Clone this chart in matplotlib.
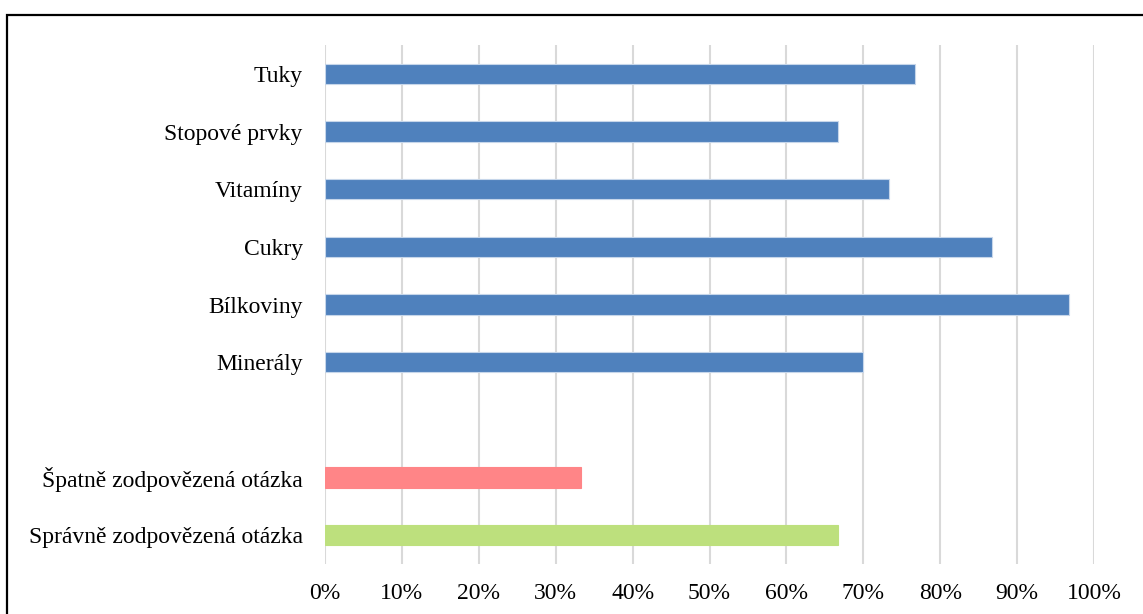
import matplotlib.pyplot as plt
from matplotlib.patches import Rectangle
from matplotlib.ticker import PercentFormatter

# share of correct answers per nutrient question, plus overall totals
categories = ["Tuky", "Stopové prvky", "Vitamíny", "Cukry", "Bílkoviny", "Minerály",
              "", "Špatně zodpovězená otázka", "Správně zodpovězená otázka"]
values = [0.767, 0.667, 0.733, 0.867, 0.967, 0.700, None, 0.333, 0.667]
colors = ["#4F81BD"] * 6 + ["none", "#FF8587", "#BDE07D"]

plt.rcParams['font.family'] = ['Liberation Serif', 'DejaVu Serif']

fig = plt.figure(figsize=(11.43, 6.14), dpi=100)
ax = fig.add_axes([325 / 1143, 1 - 564 / 614, 769 / 1143, 519 / 614])

pos = list(range(len(categories)))
for p, v, c in zip(pos, values, colors):
    if v is None:
        continue
    ax.barh(p, v, height=0.35, color=c, edgecolor="#C6D6EA" if c == "#4F81BD" else c,
            linewidth=0.8, zorder=3)

ax.set_ylim(len(categories) - 0.5, -0.5)
ax.set_yticks(pos)
ax.set_yticklabels(categories, fontsize=17)
ax.set_xlim(0, 1.0)
ax.set_xticks([i / 10 for i in range(11)])
ax.xaxis.set_major_formatter(PercentFormatter(1.0, decimals=0))
ax.tick_params(axis='x', labelsize=17, length=0, pad=14)
ax.tick_params(axis='y', length=0, pad=16)

ax.grid(axis='x', color="#D9D9D9", linewidth=1.5, zorder=0)
for s in ax.spines.values():
    s.set_visible(False)

# outer frame around the chart area
fig.patches.append(Rectangle((7 / 1143, -0.1), 1.2, 1 - 15 / 614 + 0.1,
                             transform=fig.transFigure, fill=False,
                             edgecolor="black", linewidth=1.6, clip_on=False))

plt.savefig("out.png", dpi=100)
